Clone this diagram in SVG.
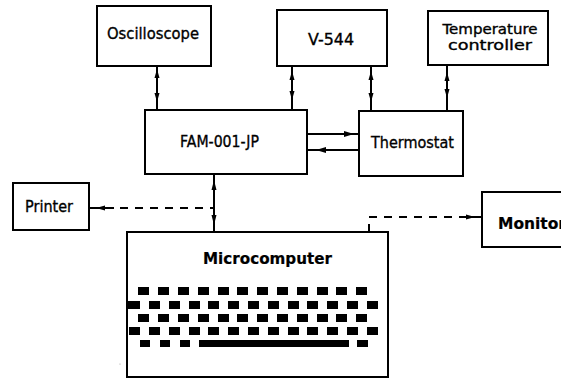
<svg xmlns="http://www.w3.org/2000/svg" width="561" height="379" viewBox="0 0 561 379">
<style>
.box{fill:#fff;stroke:#000;stroke-width:2}
.t{font-family:"DejaVu Sans",Verdana,sans-serif;font-size:16px;fill:#000;stroke:#000;stroke-width:0.35;text-anchor:middle}
.s{font-size:14px}
.b{font-weight:bold;stroke-width:0.2}
.ln{stroke:#000;stroke-width:2;fill:none}
.ds{stroke:#000;stroke-width:2;fill:none;stroke-dasharray:8 7}
.ah{fill:#000}
.k{fill:#000}
</style>
<rect width="561" height="379" fill="#fff"/>
<g id="oscilloscope"><rect class="box" x="97" y="6" width="114" height="60"/><text class="t" x="153" y="39" textLength="92" lengthAdjust="spacingAndGlyphs">Oscilloscope</text></g>
<g id="v544"><rect class="box" x="277" y="10" width="110" height="56"/><text class="t" x="331" y="45" textLength="46" lengthAdjust="spacingAndGlyphs">V-544</text></g>
<g id="tempctrl"><rect class="box" x="428" y="11" width="120" height="54"/><text class="t s" x="490" y="33.5" textLength="95" lengthAdjust="spacingAndGlyphs">Temperature</text><text class="t s" x="490" y="50" textLength="84" lengthAdjust="spacingAndGlyphs">controller</text></g>
<g id="fam"><rect class="box" x="145" y="110" width="162" height="64"/><text class="t" x="219.5" y="147" textLength="79" lengthAdjust="spacingAndGlyphs">FAM-001-JP</text></g>
<g id="thermostat"><rect class="box" x="359" y="111" width="104" height="65"/><text class="t" x="412.5" y="148" textLength="83" lengthAdjust="spacingAndGlyphs">Thermostat</text></g>
<g id="printer"><rect class="box" x="13" y="183" width="76" height="47"/><text class="t" x="49" y="212" textLength="48" lengthAdjust="spacingAndGlyphs">Printer</text></g>
<g id="monitor"><rect class="box" x="482" y="192" width="100" height="55"/><text class="t b" x="498" y="229" style="text-anchor:start" textLength="68" lengthAdjust="spacingAndGlyphs">Monitor</text></g>
<g id="microcomputer"><rect class="box" x="127" y="232" width="261" height="145"/><text class="t b" x="267.5" y="264" textLength="129" lengthAdjust="spacingAndGlyphs">Microcomputer</text>
<g id="keyboard">
<rect class="k" x="138" y="287" width="11" height="8"/><rect class="k" x="158" y="287" width="11" height="8"/><rect class="k" x="178" y="287" width="11" height="8"/><rect class="k" x="198" y="287" width="11" height="8"/><rect class="k" x="218" y="287" width="11" height="8"/><rect class="k" x="237" y="287" width="11" height="8"/><rect class="k" x="257" y="287" width="11" height="8"/><rect class="k" x="277" y="287" width="11" height="8"/><rect class="k" x="297" y="287" width="11" height="8"/><rect class="k" x="317" y="287" width="11" height="8"/><rect class="k" x="336" y="287" width="11" height="8"/><rect class="k" x="356" y="287" width="11" height="8"/>
<rect class="k" x="128" y="301" width="12" height="8"/><rect class="k" x="149" y="301" width="11" height="8"/><rect class="k" x="169" y="301" width="11" height="8"/><rect class="k" x="189" y="301" width="11" height="8"/><rect class="k" x="208" y="301" width="11" height="8"/><rect class="k" x="228" y="301" width="11" height="8"/><rect class="k" x="248" y="301" width="11" height="8"/><rect class="k" x="268" y="301" width="11" height="8"/><rect class="k" x="288" y="301" width="11" height="8"/><rect class="k" x="307" y="301" width="11" height="8"/><rect class="k" x="327" y="301" width="11" height="8"/><rect class="k" x="347" y="301" width="11" height="8"/><rect class="k" x="367" y="301" width="11" height="8"/>
<rect class="k" x="138" y="314" width="11" height="8"/><rect class="k" x="158" y="314" width="11" height="8"/><rect class="k" x="178" y="314" width="11" height="8"/><rect class="k" x="198" y="314" width="11" height="8"/><rect class="k" x="218" y="314" width="11" height="8"/><rect class="k" x="237" y="314" width="11" height="8"/><rect class="k" x="257" y="314" width="11" height="8"/><rect class="k" x="277" y="314" width="11" height="8"/><rect class="k" x="297" y="314" width="11" height="8"/><rect class="k" x="317" y="314" width="11" height="8"/><rect class="k" x="336" y="314" width="11" height="8"/><rect class="k" x="356" y="314" width="11" height="8"/>
<rect class="k" x="129" y="327" width="11" height="8"/><rect class="k" x="149" y="327" width="11" height="8"/><rect class="k" x="169" y="327" width="11" height="8"/><rect class="k" x="189" y="327" width="11" height="8"/><rect class="k" x="208" y="327" width="11" height="8"/><rect class="k" x="228" y="327" width="11" height="8"/><rect class="k" x="248" y="327" width="11" height="8"/><rect class="k" x="268" y="327" width="11" height="8"/><rect class="k" x="288" y="327" width="11" height="8"/><rect class="k" x="307" y="327" width="11" height="8"/><rect class="k" x="327" y="327" width="11" height="8"/><rect class="k" x="347" y="327" width="11" height="8"/><rect class="k" x="367" y="327" width="11" height="8"/>
<rect class="k" x="140" y="340" width="10" height="7"/><rect class="k" x="160" y="340" width="10" height="7"/><rect class="k" x="180" y="340" width="10" height="7"/><rect class="k" x="199" y="340" width="150" height="7"/><rect class="k" x="357" y="340" width="11" height="7"/>
</g></g>
<g id="connectors">
<line class="ln" x1="157" y1="66" x2="157" y2="110"/>
<polygon class="ah" points="157,69 154.5,78 159.5,78"/><polygon class="ah" points="157,102 154.5,93 159.5,93"/>
<line class="ln" x1="292" y1="66" x2="292" y2="110"/>
<polygon class="ah" points="292,71 289.5,80 294.5,80"/><polygon class="ah" points="292,100 289.5,91 294.5,91"/>
<line class="ln" x1="371" y1="66" x2="371" y2="111"/>
<polygon class="ah" points="371,71 368.5,80 373.5,80"/><polygon class="ah" points="371,102 368.5,93 373.5,93"/>
<line class="ln" x1="447" y1="65" x2="447" y2="111"/>
<polygon class="ah" points="447,72 444.5,81 449.5,81"/><polygon class="ah" points="447,98 444.5,89 449.5,89"/>
<line class="ln" x1="307" y1="134" x2="359" y2="134"/>
<polygon class="ah" points="354,134 344,131 344,137"/>
<line class="ln" x1="307" y1="150" x2="359" y2="150"/>
<polygon class="ah" points="316,150 326,147 326,153"/>
<line class="ln" x1="214" y1="174" x2="214" y2="232"/>
<polygon class="ah" points="214,180 211.5,190 216.5,190"/><polygon class="ah" points="214,225 211.5,215 216.5,215"/>
<line class="ln" x1="89" y1="208" x2="114" y2="208"/>
<path class="ds" d="M120,208 H214"/>
<polygon class="ah" points="96,208 105,205.5 105,210.5"/>
<path class="ds" d="M369,232 V217 H466"/>
<line class="ln" x1="466" y1="217" x2="482" y2="217"/>
<polygon class="ah" points="475,217 466,214.5 466,219.5"/>
</g>
<circle cx="120" cy="364" r="0.6" fill="#999"/>
</svg>
